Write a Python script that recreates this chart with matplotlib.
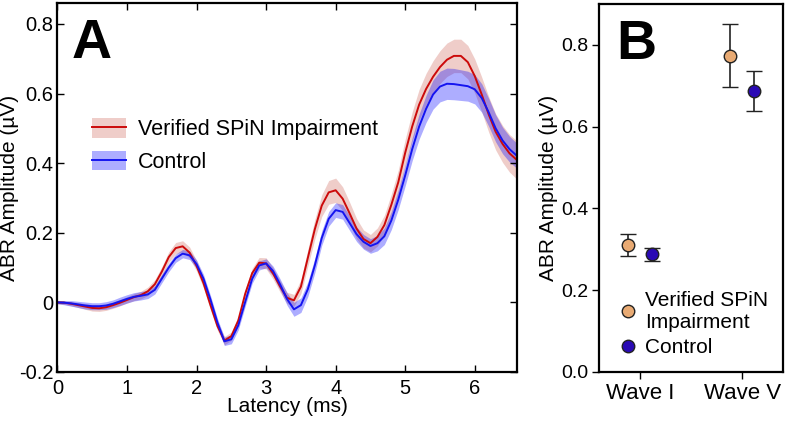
import numpy as np
import matplotlib as mpl

mpl.use('agg')

import matplotlib.pyplot as plt
from matplotlib.patches import Patch
from matplotlib.lines import Line2D

plt.rcParams['font.family'] = ['Liberation Sans', 'DejaVu Sans']

# ---- panel A: grand-average ABR waveforms (mean and SEM band) ----
latency = [0.0, 0.1, 0.2, 0.3, 0.4, 0.5, 0.6, 0.7, 0.8, 0.9,
           1.0, 1.1, 1.2, 1.3, 1.4, 1.5, 1.6, 1.7, 1.8, 1.9,
           2.0, 2.1, 2.2, 2.3, 2.4, 2.5, 2.6, 2.7, 2.8, 2.9,
           3.0, 3.1, 3.2, 3.3, 3.4, 3.5, 3.6, 3.7, 3.8, 3.9,
           4.0, 4.1, 4.2, 4.3, 4.4, 4.5, 4.6, 4.7, 4.8, 4.9,
           5.0, 5.1, 5.2, 5.3, 5.4, 5.5, 5.6, 5.7, 5.8, 5.9,
           6.0, 6.1, 6.2, 6.3, 6.4, 6.5, 6.6]

spin_mean = [0.000, -0.001, -0.004, -0.008, -0.012, -0.016, -0.017, -0.014, -0.008, -0.001,
             0.007, 0.015, 0.021, 0.032, 0.052, 0.088, 0.130, 0.156, 0.161, 0.143,
             0.105, 0.055, -0.008, -0.068, -0.110, -0.097, -0.052, 0.025, 0.084, 0.114,
             0.112, 0.083, 0.046, 0.013, 0.006, 0.045, 0.128, 0.210, 0.278, 0.316,
             0.322, 0.298, 0.256, 0.212, 0.182, 0.170, 0.188, 0.222, 0.280, 0.345,
             0.430, 0.505, 0.568, 0.613, 0.648, 0.676, 0.697, 0.708, 0.708, 0.690,
             0.650, 0.597, 0.540, 0.490, 0.455, 0.428, 0.410]

spin_sem = [0.004, 0.005, 0.006, 0.007, 0.008, 0.009, 0.009, 0.009, 0.009, 0.009,
            0.009, 0.010, 0.011, 0.012, 0.013, 0.014, 0.015, 0.016, 0.016, 0.016,
            0.015, 0.014, 0.013, 0.012, 0.012, 0.012, 0.012, 0.013, 0.014, 0.015,
            0.016, 0.016, 0.016, 0.016, 0.017, 0.020, 0.024, 0.028, 0.031, 0.034,
            0.035, 0.034, 0.032, 0.029, 0.026, 0.025, 0.026, 0.028, 0.031, 0.035,
            0.039, 0.042, 0.044, 0.045, 0.046, 0.047, 0.048, 0.048, 0.048, 0.048,
            0.049, 0.050, 0.051, 0.052, 0.053, 0.054, 0.055]

ctrl_mean = [0.000, -0.001, -0.003, -0.006, -0.009, -0.011, -0.011, -0.009, -0.004, 0.003,
             0.010, 0.016, 0.019, 0.023, 0.036, 0.068, 0.100, 0.127, 0.140, 0.135,
             0.110, 0.068, 0.008, -0.058, -0.112, -0.106, -0.066, 0.002, 0.068, 0.106,
             0.112, 0.090, 0.052, 0.010, -0.020, -0.008, 0.038, 0.106, 0.185, 0.240,
             0.265, 0.260, 0.228, 0.196, 0.174, 0.162, 0.170, 0.190, 0.235, 0.295,
             0.365, 0.440, 0.505, 0.556, 0.597, 0.620, 0.628, 0.627, 0.624, 0.621,
             0.612, 0.587, 0.546, 0.500, 0.465, 0.440, 0.422]

ctrl_sem = [0.004, 0.006, 0.008, 0.009, 0.010, 0.010, 0.010, 0.011, 0.011, 0.012,
            0.012, 0.012, 0.012, 0.012, 0.012, 0.012, 0.012, 0.012, 0.012, 0.012,
            0.012, 0.012, 0.012, 0.012, 0.012, 0.013, 0.013, 0.013, 0.013, 0.013,
            0.013, 0.014, 0.016, 0.018, 0.020, 0.021, 0.021, 0.021, 0.021, 0.021,
            0.021, 0.021, 0.021, 0.021, 0.021, 0.021, 0.022, 0.024, 0.026, 0.028,
            0.030, 0.033, 0.036, 0.039, 0.042, 0.044, 0.045, 0.045, 0.044, 0.043,
            0.042, 0.041, 0.040, 0.039, 0.038, 0.037, 0.036]

# ---- panel B: wave amplitudes ----
waves = ['Wave I', 'Wave V']
spin_amp = [0.311, 0.774]
spin_err = [0.027, 0.078]
ctrl_amp = [0.288, 0.687]
ctrl_err = [0.016, 0.048]

groups = ['Verified SPiN Impairment', 'Control']

fig = plt.figure(figsize=(7.87, 4.21), dpi=100)
axA = fig.add_axes([0.073, 0.1164, 0.5833, 0.8765])
axB = fig.add_axes([0.7615, 0.1164, 0.2334, 0.8741])

t = np.array(latency)
sm, ss = np.array(spin_mean), np.array(spin_sem)
cm, cs = np.array(ctrl_mean), np.array(ctrl_sem)

axA.fill_between(t, sm - ss, sm + ss, color='#c0392b', alpha=0.25, lw=0)
axA.fill_between(t, cm - cs, cm + cs, color='#0000ff', alpha=0.32, lw=0)
axA.plot(t, sm, color='#cc0a0a', lw=1.4)
axA.plot(t, cm, color='#1414f0', lw=1.4)

axA.set_xlim(0, 6.6)
axA.set_ylim(-0.2, 0.86)
axA.set_xticks([0, 1, 2, 3, 4, 5, 6])
axA.set_yticks([-0.2, 0, 0.2, 0.4, 0.6, 0.8])
axA.set_yticklabels(['-0.2', '0', '0.2', '0.4', '0.6', '0.8'])
axA.tick_params(direction='in', top=True, right=True, length=5, width=1,
                labelsize=14.5)
axA.tick_params(axis='x', pad=5)
axA.tick_params(axis='y', pad=3)
for s in axA.spines.values():
    s.set_linewidth(1.6)
axA.set_xlabel('Latency (ms)', fontsize=15, labelpad=-1)
axA.set_ylabel('ABR Amplitude (\u00b5V)', fontsize=15, labelpad=0)
axA.text(0.03, 0.96, 'A', transform=axA.transAxes, fontsize=40,
         fontweight='bold', va='top', ha='left')

hA = [(Patch(facecolor='#c0392b', alpha=0.25, lw=0), Line2D([], [], color='#cc0a0a', lw=1.4)),
      (Patch(facecolor='#0000ff', alpha=0.32, lw=0), Line2D([], [], color='#1414f0', lw=1.4))]
axA.legend(hA, groups, loc='upper left', bbox_to_anchor=(0.033, 0.74),
           frameon=False, fontsize=15.5, handlelength=1.6, handleheight=1.0,
           handletextpad=0.55, labelspacing=0.5)

# panel B
x = np.arange(len(waves))
off = 0.115
axB.errorbar(x - off, spin_amp, yerr=spin_err, fmt='o', color='#222222',
             mfc='#e8aa73', mec='#222222', mew=1, ms=9, capsize=6, elinewidth=1.2,
             capthick=1.2)
axB.errorbar(x + off, ctrl_amp, yerr=ctrl_err, fmt='o', color='#222222',
             mfc='#2a0ab4', mec='#222222', mew=1, ms=9, capsize=6, elinewidth=1.2,
             capthick=1.2)
axB.set_xlim(-0.4, 1.4)
axB.set_ylim(0, 0.9)
axB.set_xticks(x)
axB.set_xticklabels(waves, fontsize=16)
axB.set_yticks([0.0, 0.2, 0.4, 0.6, 0.8])
axB.set_yticklabels(['0.0', '0.2', '0.4', '0.6', '0.8'], fontsize=14)
axB.tick_params(direction='out', length=5, width=1, pad=3)
for s in axB.spines.values():
    s.set_linewidth(1.6)
axB.set_ylabel('ABR Amplitude (\u00b5V)', fontsize=15, labelpad=2)
axB.text(0.09, 0.96, 'B', transform=axB.transAxes, fontsize=40,
         fontweight='bold', va='top', ha='left')

hB = [Line2D([], [], ls='none', marker='o', mfc='#e8aa73', mec='#222222', ms=9),
      Line2D([], [], ls='none', marker='o', mfc='#2a0ab4', mec='#222222', ms=9)]
axB.legend(hB, ['Verified SPiN\nImpairment', 'Control'], loc='lower left',
           bbox_to_anchor=(0.0, -0.01), frameon=False, fontsize=15,
           handlelength=1.0, handletextpad=0.3, labelspacing=0.3)

fig.savefig('out.png', dpi=100)
